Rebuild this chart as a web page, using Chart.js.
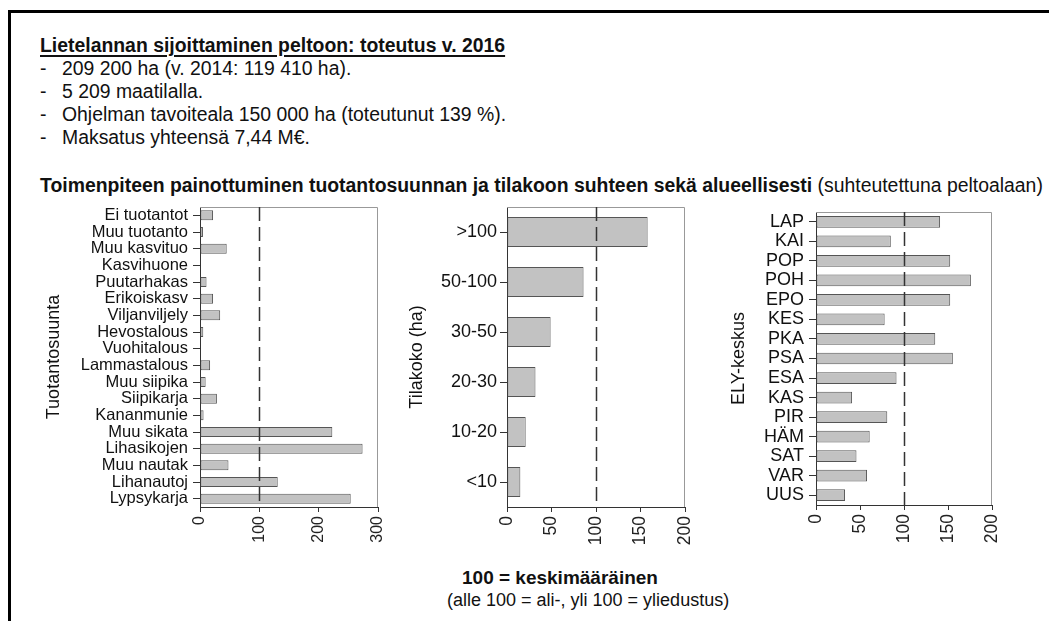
<!DOCTYPE html>
<html>
<head>
<meta charset="utf-8">
<script src="https://cdn.jsdelivr.net/npm/chart.js@4.4.1/dist/chart.umd.min.js"></script>
<style>
  html, body { margin: 0; padding: 0; background: #fff; }
  body { width: 1049px; height: 621px; position: relative; overflow: hidden; font-family: "Liberation Sans", Arial, sans-serif; color: #111; }
  .frame-top { position: absolute; left: 8px; top: 10px; width: 1041px; height: 3px; background: #000; }
  .frame-left { position: absolute; left: 8px; top: 10px; width: 3px; height: 611px; background: #000; }
  .txt { position: absolute; white-space: nowrap; font-size: 19.4px; line-height: 23px; }
  .b { font-weight: bold; }
  .u { text-decoration: underline; text-decoration-thickness: 2px; text-underline-offset: 3px; }
  canvas { position: absolute; }
</style>
</head>
<body>
<div class="frame-top"></div>
<div class="frame-left"></div>

<div class="txt b u" style="left:40px; top:34px;">Lietelannan sijoittaminen peltoon: toteutus v. 2016</div>
<div class="txt" style="left:40px; top:57px;">-</div><div class="txt" style="left:62px; top:57px;">209 200 ha (v. 2014: 119 410 ha).</div>
<div class="txt" style="left:40px; top:80px;">-</div><div class="txt" style="left:62px; top:80px;">5 209 maatilalla.</div>
<div class="txt" style="left:40px; top:103px;">-</div><div class="txt" style="left:62px; top:103px;">Ohjelman tavoiteala 150 000 ha (toteutunut 139 %).</div>
<div class="txt" style="left:40px; top:126px;">-</div><div class="txt" style="left:62px; top:126px;">Maksatus yhteensä 7,44 M€.</div>

<div class="txt" style="left:40px; top:174px;"><span class="b">Toimenpiteen painottuminen tuotantosuunnan ja tilakoon suhteen sekä alueellisesti</span> (suhteutettuna peltoalaan)</div>

<div class="txt b" style="left:462px; top:566px; font-size:19px;">100 = keskimääräinen</div>
<div class="txt" style="left:447px; top:589px; font-size:18px;">(alle 100 = ali-, yli 100 = yliedustus)</div>

<canvas id="c1" width="368" height="360" style="left:30px; top:197px;"></canvas>
<canvas id="c2" width="305" height="360" style="left:400px; top:197px;"></canvas>
<canvas id="c3" width="292" height="353" style="left:720px; top:202px;"></canvas>

<script>
// tuotantosuunta (production type), top to bottom
const prodLabels = ['Ei tuotantot', 'Muu tuotanto', 'Muu kasvituo', 'Kasvihuone', 'Puutarhakas', 'Erikoiskasv',
  'Viljanviljely', 'Hevostalous', 'Vuohitalous', 'Lammastalous', 'Muu siipika', 'Siipikarja', 'Kananmunie',
  'Muu sikata', 'Lihasikojen', 'Muu nautak', 'Lihanautoj', 'Lypsykarja'];
const prodValues = [22, 5, 45, 0.5, 11, 22, 34, 5.5, 0, 17, 9.5, 28.5, 6, 223, 274, 48, 131, 254];
const prodTicks = [0, 100, 200, 300];

// tilakoko (farm size, ha)
const sizeLabels = ['>100', '50-100', '30-50', '20-30', '10-20', '<10'];
const sizeValues = [158, 86, 49, 32, 21, 15];
const sizeTicks = [0, 50, 100, 150, 200];

// ELY-keskus
const elyLabels = ['LAP', 'KAI', 'POP', 'POH', 'EPO', 'KES', 'PKA', 'PSA', 'ESA', 'KAS', 'PIR', 'HÄM', 'SAT', 'VAR', 'UUS'];
const elyValues = [141, 85, 152.5, 176, 152.5, 78, 135.5, 155.5, 91.5, 41, 81, 61, 46, 58, 33];
const elyTicks = [0, 50, 100, 150, 200];

const avgValue = 100;

// dashed "average" line + light box on top/right
const refLine = {
  id: 'refLine',
  afterDraw(chart) {
    const ctx = chart.ctx, a = chart.chartArea;
    const x = Math.round(chart.scales.x.getPixelForValue(avgValue)) + 0.5;
    ctx.save();
    ctx.strokeStyle = '#999';
    ctx.lineWidth = 1;
    ctx.beginPath();
    ctx.moveTo(a.left, a.top + 0.5);
    ctx.lineTo(a.right - 0.5, a.top + 0.5);
    ctx.lineTo(a.right - 0.5, a.bottom);
    ctx.stroke();
    ctx.strokeStyle = '#333';
    ctx.lineWidth = 1.5;
    ctx.setLineDash([14, 6]);
    ctx.beginPath();
    ctx.moveTo(x, a.top);
    ctx.lineTo(x, a.bottom);
    ctx.stroke();
    ctx.restore();
  }
};

function makeChart(id, labels, values, ticks, title, opt) {
  const maxV = ticks[ticks.length - 1];
  return new Chart(document.getElementById(id), {
    type: 'bar',
    data: {
      labels: labels,
      datasets: [{
        data: values,
        backgroundColor: '#c2c2c2',
        borderColor: '#555',
        borderWidth: 1,
        borderSkipped: false,
        categoryPercentage: 1,
        barPercentage: 0.6
      }]
    },
    options: {
      indexAxis: 'y',
      responsive: false,
      animation: false,
      devicePixelRatio: 1,
      layout: { padding: { top: 10, right: 20, left: 0, bottom: 0 } },
      plugins: { legend: { display: false }, tooltip: { enabled: false } },
      scales: {
        x: {
          min: 0,
          max: maxV,
          afterBuildTicks(s) { s.ticks = ticks.map(v => ({ value: v })); },
          ticks: {
            autoSkip: false,
            minRotation: 90,
            maxRotation: 90,
            padding: 4,
            color: '#222',
            font: { family: 'Liberation Sans', size: opt.xFont }
          },
          grid: { drawOnChartArea: false, tickLength: 5, color: '#333', lineWidth: 1 },
          border: { display: true, color: '#333', width: 1 },
          afterFit(s) { s.height = 50; s.paddingLeft = 0; s.paddingRight = 0; }
        },
        y: {
          type: 'category',
          ticks: {
            autoSkip: false,
            padding: opt.yPad,
            color: '#111',
            font: { family: 'Liberation Sans', size: opt.yFont }
          },
          grid: { drawOnChartArea: false, offset: false, tickLength: 7, color: '#333', lineWidth: 1 },
          border: { display: true, color: '#333', width: 1 },
          title: {
            display: true,
            text: title,
            color: '#111',
            padding: { top: opt.titlePad, bottom: 0 },
            font: { family: 'Liberation Sans', size: 18 }
          },
          afterFit(s) { s.width = opt.yWidth; s.paddingTop = 0; s.paddingBottom = 0; }
        }
      }
    },
    plugins: [refLine]
  });
}

makeChart('c1', prodLabels, prodValues, prodTicks, 'Tuotantosuunta', { xFont: 16, yFont: 16.5, yWidth: 170, titlePad: 13, yPad: 5 });
makeChart('c2', sizeLabels, sizeValues, sizeTicks, 'Tilakoko (ha)', { xFont: 17.5, yFont: 18, yWidth: 107, titlePad: 6, yPad: 3 });
makeChart('c3', elyLabels, elyValues, elyTicks, 'ELY-keskus', { xFont: 17.5, yFont: 18, yWidth: 96, titlePad: 8, yPad: 5 });
</script>
</body>
</html>
